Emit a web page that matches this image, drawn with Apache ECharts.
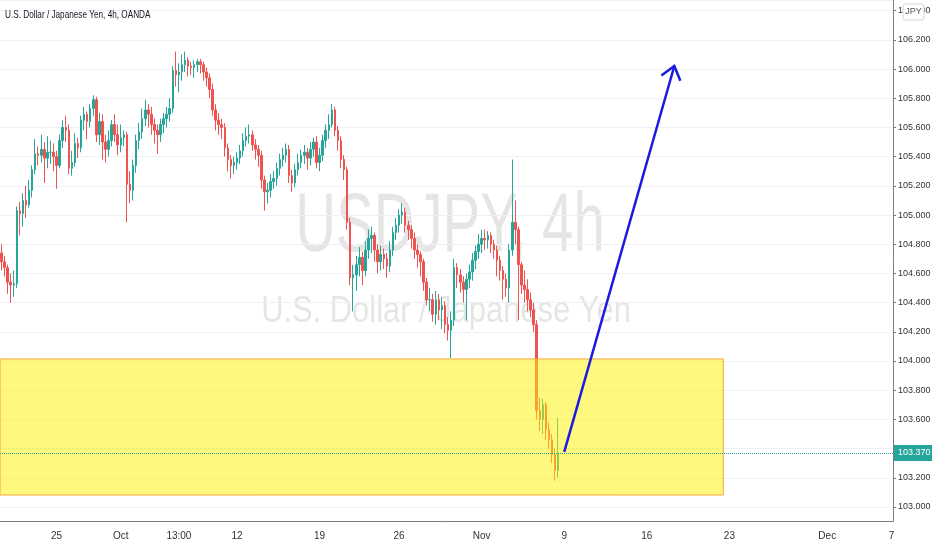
<!DOCTYPE html>
<html>
<head>
<meta charset="utf-8">
<title>USDJPY 4h</title>
<script src="https://cdn.jsdelivr.net/npm/echarts@6/dist/echarts.min.js"></script>
<style>
    html, body { margin: 0; padding: 0; background: #fff; }
    #chart { width: 932px; height: 550px; }
</style>
</head>
<body>
<div id="chart"></div>
<script>
// 4h candles, [open, close, low, high]
var candles = [
    [104.74, 104.68, 104.62, 104.80], [104.68, 104.64, 104.58, 104.72], [104.64, 104.54, 104.46, 104.66],
    [104.54, 104.52, 104.40, 104.60], [104.52, 104.53, 104.44, 104.62], [104.53, 105.03, 104.50, 105.06],
    [105.03, 105.01, 104.86, 105.09], [105.01, 105.10, 104.92, 105.15], [105.10, 105.07, 104.98, 105.20],
    [105.07, 105.17, 105.05, 105.24], [105.17, 105.31, 105.12, 105.34], [105.31, 105.42, 105.28, 105.52],
    [105.42, 105.41, 105.34, 105.47], [105.41, 105.45, 105.36, 105.55], [105.45, 105.39, 105.22, 105.50],
    [105.39, 105.43, 105.32, 105.54], [105.43, 105.43, 105.35, 105.51], [105.43, 105.40, 105.30, 105.49],
    [105.40, 105.34, 105.18, 105.44], [105.34, 105.51, 105.32, 105.55], [105.51, 105.60, 105.46, 105.65],
    [105.60, 105.58, 105.50, 105.68], [105.58, 105.32, 105.28, 105.62], [105.32, 105.36, 105.27, 105.44],
    [105.36, 105.49, 105.33, 105.56], [105.49, 105.46, 105.39, 105.53], [105.46, 105.65, 105.43, 105.68],
    [105.65, 105.69, 105.58, 105.74], [105.69, 105.64, 105.52, 105.71], [105.64, 105.73, 105.60, 105.76],
    [105.73, 105.79, 105.68, 105.82], [105.79, 105.55, 105.50, 105.81], [105.55, 105.64, 105.48, 105.70],
    [105.64, 105.50, 105.38, 105.69], [105.50, 105.45, 105.36, 105.55], [105.45, 105.51, 105.40, 105.58],
    [105.51, 105.62, 105.47, 105.65], [105.62, 105.55, 105.50, 105.69], [105.55, 105.48, 105.41, 105.62],
    [105.48, 105.53, 105.43, 105.62], [105.53, 105.55, 105.47, 105.58], [105.55, 105.21, 104.95, 105.57],
    [105.21, 105.17, 105.08, 105.30], [105.17, 105.34, 105.10, 105.38], [105.34, 105.51, 105.29, 105.55],
    [105.51, 105.57, 105.45, 105.63], [105.57, 105.66, 105.52, 105.73], [105.66, 105.72, 105.61, 105.79],
    [105.72, 105.69, 105.60, 105.76], [105.69, 105.62, 105.55, 105.74], [105.62, 105.58, 105.49, 105.66],
    [105.58, 105.55, 105.42, 105.62], [105.55, 105.62, 105.50, 105.66], [105.62, 105.66, 105.56, 105.70],
    [105.66, 105.69, 105.60, 105.74], [105.69, 105.73, 105.64, 105.80], [105.73, 105.99, 105.70, 106.02],
    [105.99, 105.96, 105.88, 106.12], [105.96, 105.98, 105.84, 106.04], [105.98, 106.03, 105.92, 106.10],
    [106.03, 106.06, 105.98, 106.12], [106.06, 106.02, 105.95, 106.08], [106.02, 106.01, 105.96, 106.05],
    [106.01, 106.03, 105.94, 106.06], [106.03, 106.05, 105.98, 106.07], [106.05, 106.03, 105.97, 106.07],
    [106.03, 105.98, 105.92, 106.05], [105.98, 105.94, 105.88, 106.01], [105.94, 105.86, 105.80, 105.97],
    [105.86, 105.72, 105.68, 105.90], [105.72, 105.65, 105.58, 105.76], [105.65, 105.62, 105.55, 105.70],
    [105.62, 105.60, 105.52, 105.66], [105.60, 105.46, 105.40, 105.63], [105.46, 105.38, 105.30, 105.49],
    [105.38, 105.34, 105.25, 105.41], [105.34, 105.36, 105.28, 105.40], [105.36, 105.39, 105.31, 105.43],
    [105.39, 105.44, 105.35, 105.48], [105.44, 105.51, 105.40, 105.56], [105.51, 105.54, 105.47, 105.60],
    [105.54, 105.55, 105.49, 105.62], [105.55, 105.48, 105.44, 105.58], [105.48, 105.45, 105.38, 105.52],
    [105.45, 105.41, 105.33, 105.48], [105.41, 105.24, 105.18, 105.44], [105.24, 105.16, 105.03, 105.27],
    [105.16, 105.17, 105.08, 105.22], [105.17, 105.23, 105.12, 105.28], [105.23, 105.25, 105.18, 105.30],
    [105.25, 105.32, 105.20, 105.36], [105.32, 105.38, 105.27, 105.42], [105.38, 105.41, 105.33, 105.46],
    [105.41, 105.45, 105.36, 105.49], [105.45, 105.27, 105.22, 105.48], [105.27, 105.22, 105.16, 105.31],
    [105.22, 105.31, 105.19, 105.35], [105.31, 105.36, 105.27, 105.42], [105.36, 105.41, 105.32, 105.45],
    [105.41, 105.43, 105.35, 105.48], [105.43, 105.39, 105.31, 105.46], [105.39, 105.45, 105.34, 105.50],
    [105.45, 105.50, 105.40, 105.53], [105.50, 105.36, 105.32, 105.54], [105.36, 105.41, 105.30, 105.46],
    [105.41, 105.51, 105.37, 105.55], [105.51, 105.58, 105.46, 105.62], [105.58, 105.62, 105.52, 105.69],
    [105.62, 105.72, 105.60, 105.76], [105.72, 105.58, 105.54, 105.74], [105.58, 105.51, 105.44, 105.61],
    [105.51, 105.38, 105.32, 105.54], [105.38, 105.31, 105.24, 105.41], [105.31, 104.95, 104.90, 105.33],
    [104.95, 104.57, 104.52, 104.98], [104.57, 104.59, 104.34, 104.66], [104.59, 104.66, 104.48, 104.72],
    [104.66, 104.71, 104.58, 104.78], [104.71, 104.62, 104.52, 104.75], [104.62, 104.76, 104.58, 104.82],
    [104.76, 104.84, 104.70, 104.90], [104.84, 104.86, 104.74, 104.92], [104.86, 104.76, 104.68, 104.88],
    [104.76, 104.68, 104.60, 104.80], [104.68, 104.73, 104.62, 104.79], [104.73, 104.70, 104.63, 104.77],
    [104.70, 104.65, 104.57, 104.74], [104.65, 104.76, 104.61, 104.82], [104.76, 104.88, 104.72, 104.92],
    [104.88, 104.93, 104.83, 104.98], [104.93, 105.00, 104.88, 105.04], [105.00, 105.02, 104.94, 105.08],
    [105.02, 104.93, 104.88, 105.05], [104.93, 104.90, 104.83, 104.96], [104.90, 104.84, 104.77, 104.93],
    [104.84, 104.76, 104.70, 104.88], [104.76, 104.73, 104.64, 104.80], [104.73, 104.68, 104.58, 104.75],
    [104.68, 104.54, 104.48, 104.70], [104.54, 104.42, 104.38, 104.57], [104.42, 104.42, 104.34, 104.50],
    [104.42, 104.32, 104.27, 104.46], [104.32, 104.42, 104.25, 104.48], [104.42, 104.35, 104.28, 104.46],
    [104.35, 104.38, 104.22, 104.44], [104.38, 104.25, 104.19, 104.41], [104.25, 104.21, 104.14, 104.30],
    [104.21, 104.28, 104.02, 104.34], [104.28, 104.64, 104.24, 104.70], [104.64, 104.59, 104.50, 104.67],
    [104.59, 104.54, 104.47, 104.63], [104.54, 104.49, 104.40, 104.58], [104.49, 104.56, 104.28, 104.60],
    [104.56, 104.61, 104.50, 104.66], [104.61, 104.69, 104.55, 104.74], [104.69, 104.75, 104.63, 104.79],
    [104.75, 104.80, 104.70, 104.87], [104.80, 104.84, 104.74, 104.90], [104.84, 104.83, 104.76, 104.90],
    [104.83, 104.86, 104.77, 104.89], [104.86, 104.80, 104.74, 104.88], [104.80, 104.76, 104.70, 104.83],
    [104.76, 104.69, 104.58, 104.79], [104.69, 104.62, 104.55, 104.72], [104.62, 104.56, 104.42, 104.65],
    [104.56, 104.50, 104.44, 104.60], [104.50, 104.76, 104.40, 104.80], [104.76, 104.95, 104.72, 105.38],
    [104.95, 104.90, 104.80, 105.10], [104.90, 104.66, 104.28, 104.92], [104.66, 104.52, 104.46, 104.68],
    [104.52, 104.49, 104.40, 104.62], [104.49, 104.42, 104.34, 104.56], [104.42, 104.35, 104.30, 104.47],
    [104.35, 104.25, 104.20, 104.40], [104.25, 103.66, 103.60, 104.28], [103.66, 103.60, 103.52, 103.75],
    [103.60, 103.70, 103.50, 103.74], [103.70, 103.53, 103.46, 103.72], [103.53, 103.46, 103.40, 103.58],
    [103.46, 103.36, 103.30, 103.50], [103.36, 103.25, 103.18, 103.40], [103.25, 103.37, 103.20, 103.61]
];

// time axis: one slot per 4h bar, the right part is empty future space
var slotCount = 292;
var tickSlots = [18, 39, 58, 77, 104, 130, 157, 184, 211, 238, 270, 291];
var tickLabels = ['25', 'Oct', '13:00', '12', '19', '26', 'Nov', '9', '16', '23', 'Dec', '7'];

var lastPrice = 103.370;
var priceMin = 102.904, priceMax = 106.473;

// drawings: yellow zone [slot0, top, slot1, bottom] and the blue arrow [slot0, p0, slot1, p1]
var zone = [0, 104.014, 236, 103.082];
var arrow = [184, 103.377, 220, 106.021];

var font = "'Liberation Sans', sans-serif";
var up = '#26a69a', down = '#ef5350';

var slots = [];
for (var i = 0; i < slotCount; i++) slots.push(String(i));

function isTick(index) {
    return tickSlots.indexOf(index) >= 0;
}

var myChart = echarts.init(document.getElementById('chart'));
var option = {
    animation: false,
    backgroundColor: '#ffffff',
    grid: {left: 0, right: 39, top: 0, bottom: 29, containLabel: false, outerBoundsMode: 'none'},
    xAxis: {
        type: 'category',
        data: slots,
        boundaryGap: true,
        axisLine: {lineStyle: {color: '#787b86'}},
        axisTick: {alignWithLabel: true, interval: isTick, length: 4, lineStyle: {color: '#787b86'}},
        axisLabel: {
            interval: isTick,
            margin: 10,
            fontSize: 10,
            fontFamily: font,
            color: '#333',
            formatter: function (value, index) {
                return tickLabels[tickSlots.indexOf(index)] || '';
            }
        },
        splitLine: {show: false}
    },
    yAxis: {
        type: 'value',
        position: 'right',
        min: priceMin,
        max: priceMax,
        splitNumber: 18,
        axisLine: {show: true, lineStyle: {color: '#787b86'}},
        axisTick: {show: true, length: 3, lineStyle: {color: '#787b86'}},
        axisLabel: {
            margin: 5,
            fontSize: 9,
            fontFamily: font,
            color: '#333',
            showMinLabel: false,
            showMaxLabel: false,
            formatter: function (v) {
                // the last price tag covers the label next to it
                if (Math.abs(v - lastPrice) < 0.08) return '';
                return v.toFixed(3);
            }
        },
        splitLine: {lineStyle: {color: '#eef0f5'}}
    },
    graphic: [
        {type: 'text', x: 450, y: 270, scaleX: 0.68, z: -1, silent: true,
            style: {text: 'USDJPY, 4h', font: '83px ' + font, fill: 'rgba(0,0,0,0.1)',
                align: 'center', textAlign: 'center', verticalAlign: 'bottom', textVerticalAlign: 'bottom'}},
        {type: 'text', x: 446, y: 330, scaleX: 0.858, z: -1, silent: true,
            style: {text: 'U.S. Dollar / Japanese Yen', font: '36px ' + font, fill: 'rgba(0,0,0,0.1)',
                align: 'center', textAlign: 'center', verticalAlign: 'bottom', textVerticalAlign: 'bottom'}},
        {type: 'text', x: 5, y: 15, scaleX: 0.745, z: 20, silent: true,
            style: {text: 'U.S. Dollar / Japanese Yen, 4h, OANDA', font: '11px ' + font, fill: '#131722',
                verticalAlign: 'middle', textVerticalAlign: 'middle'}},
        {type: 'rect', z: 20, silent: true,
            shape: {x: 903, y: 4, width: 21, height: 16, r: 3},
            style: {fill: '#ffffff', stroke: '#d6d6d6', lineWidth: 1}},
        {type: 'text', x: 913.5, y: 12, z: 21, silent: true,
            style: {text: 'JPY', font: '9px ' + font, fill: '#555',
                align: 'center', textAlign: 'center', verticalAlign: 'middle', textVerticalAlign: 'middle'}}
    ],
    series: [
        {
            type: 'candlestick',
            data: candles,
            barWidth: 2,
            itemStyle: {
                color: up,
                color0: down,
                borderColor: up,
                borderColor0: down,
                borderWidth: 1
            },
            markLine: {
                silent: true,
                symbol: ['none', 'none'],
                data: [{yAxis: lastPrice}],
                lineStyle: {color: up, type: 'dotted', width: 1},
                label: {
                    position: 'end',
                    distance: 1,
                    formatter: lastPrice.toFixed(3),
                    backgroundColor: up,
                    color: '#fff',
                    fontSize: 9,
                    fontFamily: font,
                    padding: [4, 6, 3, 4]
                }
            }
        },
        {
            type: 'custom',
            z: 3,
            silent: true,
            data: [zone],
            encode: {x: [0, 2], y: [1, 3]},
            renderItem: function (params, api) {
                var p0 = api.coord([api.value(0), api.value(1)]);
                var p1 = api.coord([api.value(2), api.value(3)]);
                var left = params.coordSys.x;
                return {
                    type: 'rect',
                    shape: {x: left, y: p0[1], width: p1[0] - left, height: p1[1] - p0[1]},
                    style: {fill: 'rgba(255,242,0,0.5)', stroke: '#f2a93b', lineWidth: 1}
                };
            }
        },
        {
            type: 'custom',
            z: 6,
            silent: true,
            data: [arrow],
            encode: {x: [0, 2], y: [1, 3]},
            renderItem: function (params, api) {
                var a = api.coord([api.value(0), api.value(1)]);
                var b = api.coord([api.value(2), api.value(3)]);
                var dx = b[0] - a[0], dy = b[1] - a[1];
                var len = Math.sqrt(dx * dx + dy * dy);
                var bx = -dx / len, by = -dy / len;
                var ang = 38 * Math.PI / 180, wing = 16;
                function w(s) {
                    var c = Math.cos(s * ang), sn = Math.sin(s * ang);
                    return [b[0] + wing * (bx * c - by * sn), b[1] + wing * (bx * sn + by * c)];
                }
                return {
                    type: 'group',
                    children: [
                        {type: 'line', shape: {x1: a[0], y1: a[1], x2: b[0], y2: b[1]},
                            style: {stroke: '#1a1ae0', lineWidth: 2.5, fill: 'none'}},
                        {type: 'polyline', shape: {points: [w(1), b, w(-1)]},
                            style: {stroke: '#1a1ae0', lineWidth: 2.5, fill: 'none', lineJoin: 'miter'}}
                    ]
                };
            }
        }
    ]
};

myChart.setOption(option);
</script>
</body>
</html>
